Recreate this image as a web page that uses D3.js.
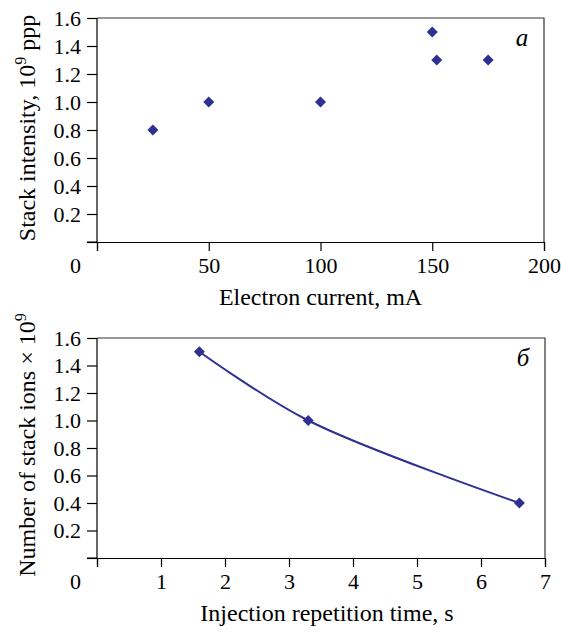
<!DOCTYPE html>
<html lang="en">
<head>
<meta charset="UTF-8">
<title>Stack intensity</title>
<script src="https://cdn.jsdelivr.net/npm/d3@7/dist/d3.min.js"></script>
<style>
  body { margin: 0; background: #fff; }
  text { font-family: "Liberation Serif", "Times New Roman", serif; fill: #000; }
</style>
</head>
<body>
<div id="chart"></div>
<script>
// panel a: stack intensity vs electron current
var currentX = [25, 50, 100, 150, 152, 175];
var intensityY = [0.8, 1.0, 1.0, 1.5, 1.3, 1.3];
var currentTicks = [0, 50, 100, 150, 200];

// panel b: number of stack ions vs injection repetition time
var timeX = [1.6, 3.3, 6.6];
var ionsY = [1.5, 1.0, 0.4];
var timeTicks = [0, 1, 2, 3, 4, 5, 6, 7];

var yTicks = [0, 0.2, 0.4, 0.6, 0.8, 1.0, 1.2, 1.4, 1.6];

var width = 561, height = 632;
var fontSize = 22, titleSize = 24;
var blue = "#2e3192";

var svg = d3.select("#chart").append("svg")
    .attr("width", width)
    .attr("height", height);

function panel(opts) {
    var x = d3.scaleLinear().domain(opts.xDomain).range([opts.left, opts.right]);
    var y = d3.scaleLinear().domain([0, 1.6]).range([opts.bottom, opts.top]);

    var g = svg.append("g");

    // frame (top and right)
    g.append("path")
        .attr("d", "M" + opts.left + "," + opts.top + "H" + opts.right + "V" + opts.bottom)
        .attr("fill", "none")
        .attr("stroke", "#333")
        .attr("stroke-width", 1.2);

    var yAxis = g.append("g")
        .attr("transform", "translate(" + opts.left + ",0)")
        .call(d3.axisLeft(y).tickValues(yTicks).tickSize(10).tickPadding(6)
            .tickFormat(function(d){ return d === 0 ? "" : d3.format(".1f")(d); }));

    var xAxis = g.append("g")
        .attr("transform", "translate(0," + opts.bottom + ")")
        .call(d3.axisBottom(x).tickValues(opts.xTicks).tickSize(9).tickPadding(6)
            .tickFormat(d3.format("d")));

    [yAxis, xAxis].forEach(function(a) {
        a.select(".domain").attr("stroke", "#000").attr("stroke-width", 1.2);
        a.selectAll(".tick line").attr("stroke", "#000").attr("stroke-width", 1.2);
        a.selectAll("text").style("font-size", fontSize + "px")
            .style("font-family", "'Liberation Serif', serif").attr("fill", "#000");
    });
    // y axis line extends to the tick at 0
    yAxis.select(".domain").attr("d", "M-10," + opts.bottom + "H0V" + opts.top);
    // origin label sits left of the axis
    xAxis.selectAll(".tick").filter(function(d){ return d === 0; })
        .select("text").attr("x", -22);

    // x title
    g.append("text")
        .attr("x", (opts.left + opts.right) / 2 + opts.xTitleShift)
        .attr("y", opts.bottom + 63)
        .attr("text-anchor", "middle")
        .style("font-size", titleSize + "px")
        .text(opts.xTitle);

    // y title with superscript
    var yt = g.append("text")
        .attr("transform", "translate(35," + opts.yTitleCenter + ") rotate(-90)")
        .attr("text-anchor", "middle")
        .style("font-size", titleSize + "px");
    yt.append("tspan").text(opts.yTitle);
    yt.append("tspan").attr("dy", -9).style("font-size", "16px").text("9");
    if (opts.yTitleEnd) yt.append("tspan").attr("dy", 9).text(opts.yTitleEnd);

    // panel letter
    g.append("text")
        .attr("x", opts.right - 22)
        .attr("y", opts.top + 28)
        .attr("text-anchor", "middle")
        .style("font-size", "25px")
        .style("font-style", "italic")
        .text(opts.letter);

    var pts = opts.xs.map(function(v, i){ return [v, opts.ys[i]]; });

    if (opts.line) {
        g.append("path")
            .datum(pts)
            .attr("fill", "none")
            .attr("stroke", blue)
            .attr("stroke-width", 2)
            .attr("d", d3.line()
                .x(function(d){ return x(d[0]); })
                .y(function(d){ return y(d[1]); })
                .curve(d3.curveCatmullRom.alpha(0.5)));
    }

    g.selectAll(".pt")
        .data(pts)
        .enter()
        .append("path")
        .attr("class", "pt")
        .attr("transform", function(d){ return "translate(" + x(d[0]) + "," + y(d[1]) + ")"; })
        .attr("d", "M0,-5.5L5.5,0L0,5.5L-5.5,0Z")
        .attr("fill", blue);
}

panel({
    xDomain: [0, 200], xTicks: currentTicks,
    left: 97, right: 544, top: 18, bottom: 242,
    xs: currentX, ys: intensityY, line: false,
    xTitle: "Electron current, mA", xTitleShift: 0,
    yTitle: "Stack intensity, 10", yTitleEnd: " ppp", yTitleCenter: 128,
    letter: "a"
});

panel({
    xDomain: [0, 7], xTicks: timeTicks,
    left: 97, right: 545, top: 338, bottom: 558,
    xs: timeX, ys: ionsY, line: true,
    xTitle: "Injection repetition time, s", xTitleShift: 6,
    yTitle: "Number of stack ions \u00d7 10", yTitleEnd: null, yTitleCenter: 445,
    letter: "\u0431"
});
</script>
</body>
</html>
